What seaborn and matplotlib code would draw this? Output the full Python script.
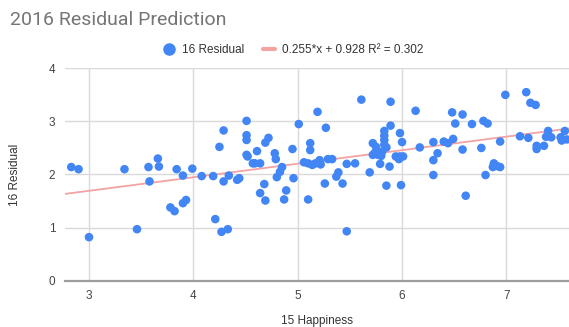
import numpy as np
import pandas as pd
import matplotlib
matplotlib.use("Agg")
import matplotlib.pyplot as plt
from matplotlib.lines import Line2D
import seaborn as sns

happiness_15 = [
    2.83, 2.90, 3.00, 3.34, 3.46, 3.57, 3.58, 3.66, 3.67, 3.78, 3.82, 3.84, 3.90, 3.93, 3.90,
    3.99, 4.08, 4.19, 4.21, 4.27, 4.33, 4.25, 4.29, 4.29, 4.34, 4.42, 4.44, 4.51, 4.51, 4.51,
    4.51, 4.52, 4.57, 4.59, 4.64, 4.61, 4.69, 4.72, 4.68, 4.64, 4.69, 4.78, 4.79, 4.95, 5.06,
    4.85, 4.83, 4.80, 4.96, 4.89, 4.87, 5.01, 5.10, 5.19, 5.27, 5.61, 5.12, 5.12, 5.10, 5.14,
    5.17, 5.21, 5.22, 5.29, 5.33, 5.47, 5.55, 5.72, 5.72, 5.69, 5.39, 5.37, 5.43, 5.26, 5.47,
    5.89, 6.13, 5.89, 5.83, 5.83, 5.83, 5.98, 6.00, 5.75, 5.83, 5.85, 5.74, 5.77, 5.81, 5.80,
    5.94, 5.97, 5.98, 6.01, 6.17, 6.30, 6.34, 6.30, 5.79, 5.88, 5.85, 5.99, 6.30, 6.99, 6.48,
    6.58, 6.51, 6.67, 6.78, 6.82, 6.40, 6.44, 6.49, 6.58, 6.76, 6.94, 6.88, 6.91, 6.94, 6.87,
    6.80, 6.61, 7.19, 7.23, 7.28, 7.13, 7.21, 7.29, 7.29, 7.36, 7.40, 7.38, 7.43, 7.52, 7.56,
    7.58, 7.53,
]
residual_16 = [
    2.14, 2.10, 0.82, 2.10, 0.97, 2.14, 1.87, 2.30, 2.15, 1.38, 1.31, 2.10, 1.46, 1.52, 1.98,
    2.11, 1.97, 1.97, 1.16, 0.92, 0.97, 2.52, 2.83, 1.87, 1.98, 1.90, 1.93, 3.01, 2.74, 2.65,
    2.37, 2.34, 2.21, 2.21, 2.21, 2.44, 2.60, 2.69, 1.82, 1.65, 1.51, 2.40, 2.29, 2.48, 2.23,
    2.14, 2.05, 1.95, 1.93, 1.70, 1.53, 2.95, 1.53, 3.18, 2.88, 3.41, 2.59, 2.46, 2.21, 2.18,
    2.21, 2.27, 2.19, 2.29, 2.29, 2.20, 2.21, 2.59, 2.37, 2.04, 2.04, 1.96, 1.83, 1.83, 0.93,
    3.37, 3.20, 2.92, 2.82, 2.73, 2.65, 2.78, 2.61, 2.52, 2.56, 2.51, 2.41, 2.37, 2.43, 2.35,
    2.34, 2.29, 2.34, 2.34, 2.51, 2.61, 2.40, 2.27, 2.20, 2.15, 1.79, 1.80, 1.99, 3.50, 3.17,
    3.13, 2.96, 2.95, 3.01, 2.96, 2.62, 2.59, 2.67, 2.47, 2.50, 2.62, 2.21, 2.16, 2.14, 2.14,
    1.99, 1.60, 3.55, 3.35, 3.31, 2.72, 2.69, 2.54, 2.48, 2.54, 2.82, 2.71, 2.70, 2.70, 2.82,
    2.66, 2.64,
]
trend_slope = 0.255
trend_intercept = 0.928
trend_r2 = 0.302

df = pd.DataFrame({"15 Happiness": happiness_15, "16 Residual": residual_16})

sns.set_style("white")
plt.rcParams["font.family"] = ["Liberation Sans", "DejaVu Sans"]

blue = "#4285F4"
trend_color = "#F4A3A3"

fig = plt.figure(figsize=(5.69, 3.27), dpi=100)
ax = fig.add_axes([65 / 569, 46.3 / 327, 504 / 569, 212.4 / 327])

xmin, xmax = 2.77, 7.60
line_x = np.array([xmin, xmax])
ax.plot(line_x, trend_slope * line_x + trend_intercept, color=trend_color, lw=1.3, zorder=2)

sns.scatterplot(data=df, x="15 Happiness", y="16 Residual", ax=ax, color=blue,
                s=38, edgecolor="none", linewidth=0, zorder=3, legend=False)

ax.set_xlim(xmin, xmax)
ax.set_ylim(0, 4)
ax.set_xticks([3, 4, 5, 6, 7])
ax.set_yticks([0, 1, 2, 3, 4])
ax.grid(True, color="#D9D9D9", lw=1)
ax.set_axisbelow(True)
for side in ["top", "right", "left"]:
    ax.spines[side].set_visible(False)
ax.spines["bottom"].set_color("#9E9E9E")
ax.spines["bottom"].set_linewidth(1.6)
ax.tick_params(axis="both", length=0, labelsize=8.5, labelcolor="#444444")
ax.tick_params(axis="x", pad=7)
ax.tick_params(axis="y", pad=7)
ax.set_xlabel("15 Happiness", fontsize=8.5, color="#333333", labelpad=9)
ax.set_ylabel("16 Residual", fontsize=8.5, color="#333333", labelpad=20)

fig.text(10 / 569, 1 - 20 / 327, "2016 Residual Prediction", fontsize=14, color="#757575",
         va="center", ha="left", family=["Roboto", "DejaVu Sans"])

handles = [
    Line2D([], [], marker="o", color=blue, ls="none", markersize=8),
    Line2D([], [], color=trend_color, lw=3),
]
labels = ["16 Residual", f"{trend_slope}*x + {trend_intercept} R² = {trend_r2}"]
fig.legend(handles, labels, loc="center", bbox_to_anchor=(0.515, 1 - 50 / 327), ncol=2,
           frameon=False, fontsize=8.5, handlelength=1.0, handletextpad=0.6, columnspacing=1.6,
           labelcolor="#333333")

fig.savefig("out.png", dpi=100)
plt.close(fig)
